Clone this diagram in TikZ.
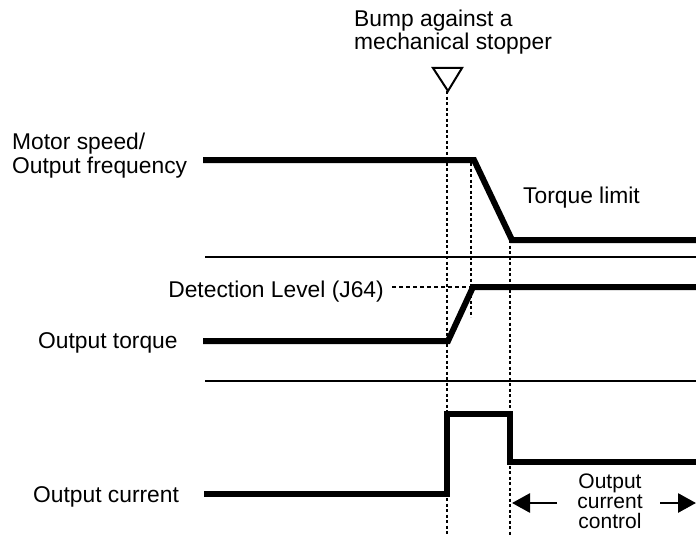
\documentclass[tikz,border=0pt]{standalone}
\usepackage{fontspec}
\setmainfont{Liberation Sans}
\usetikzlibrary{arrows.meta}
\begin{document}
\begin{tikzpicture}[x=1pt,y=-1pt,
  lbl/.style={inner sep=0pt,font=\fontsize{22.8}{23.5}\selectfont},
  sig/.style={line width=6pt,line join=miter},
  axisline/.style={line width=1.7pt},
  vdot/.style={line width=2.4pt,dash pattern=on 3pt off 2.5pt},
  hdash/.style={line width=1.8pt,dash pattern=on 4pt off 3pt},
  bigarrow/.style={line width=2.8pt,-{Triangle[length=18pt,width=19pt]}}]
\useasboundingbox (0,0) rectangle (696,535);

% labels
\node[lbl,anchor=base west,align=left] (bump) at (354,50) {Bump against a\\mechanical stopper};
\node[lbl,anchor=base west,align=left] (speedlbl) at (12,173) {Motor speed/\\Output frequency};
\node[lbl,anchor=base west] (torquelbl) at (38,348) {Output torque};
\node[lbl,anchor=base west] (currentlbl) at (33,502) {Output current};
\node[lbl,anchor=base west] (limit) at (523,203) {Torque limit};
\node[lbl,anchor=base east] (detect) at (384,297) {Detection Level (J64)};
\node[inner sep=0pt,font=\fontsize{21}{20}\selectfont,align=center] (ctrl) at (610,501) {Output\\current\\control};

% triangle marker
\coordinate (tA) at (433,68);
\coordinate (tB) at (462,68);
\coordinate (tC) at (448,91);
\draw[line width=2pt,line join=miter] (tA) -- (tB) -- (tC) -- cycle;

% separators
\coordinate (s1a) at (205,257); \coordinate (s1b) at (696,257);
\coordinate (s2a) at (205,381); \coordinate (s2b) at (696,381);
\draw[axisline] (s1a) -- (s1b);
\draw[axisline] (s2a) -- (s2b);

% vertical dotted lines
\coordinate (v1t) at (447,91);  \coordinate (v1b) at (447,535);
\coordinate (v2t) at (471,163); \coordinate (v2b) at (471,317);
\coordinate (v3t) at (510,240); \coordinate (v3b) at (510,535);
\draw[vdot] (v1t) -- (v1b);
\draw[vdot] (v2t) -- (v2b);
\draw[vdot] (v3t) -- (v3b);

% detection level
\coordinate (d1) at (392,287); \coordinate (d2) at (471,287);
\draw[hdash] (d1) -- (d2);

% motor speed
\coordinate (m0) at (203,160); \coordinate (m1) at (474,160);
\coordinate (m2) at (512,240); \coordinate (m3) at (696,240);
\draw[sig] (m0) -- (m1) -- (m2) -- (m3);

% output torque
\coordinate (q0) at (203,341); \coordinate (q1) at (448,341);
\coordinate (q2) at (473,287); \coordinate (q3) at (696,287);
\draw[sig] (q0) -- (q1) -- (q2) -- (q3);

% output current
\coordinate (c0) at (204,494); \coordinate (c1) at (447,494);
\coordinate (c2) at (447,414); \coordinate (c3) at (510,414);
\coordinate (c4) at (510,462); \coordinate (c5) at (696,462);
\draw[sig] (c0) -- (c1) -- (c2) -- (c3) -- (c4) -- (c5);

% arrows
\coordinate (aL) at (557,503); \coordinate (aLt) at (512,503);
\coordinate (aR) at (660,503); \coordinate (aRt) at (696,503);
\draw[bigarrow] (aL) -- (aLt);
\draw[bigarrow] (aR) -- (aRt);
\end{tikzpicture}
\end{document}
